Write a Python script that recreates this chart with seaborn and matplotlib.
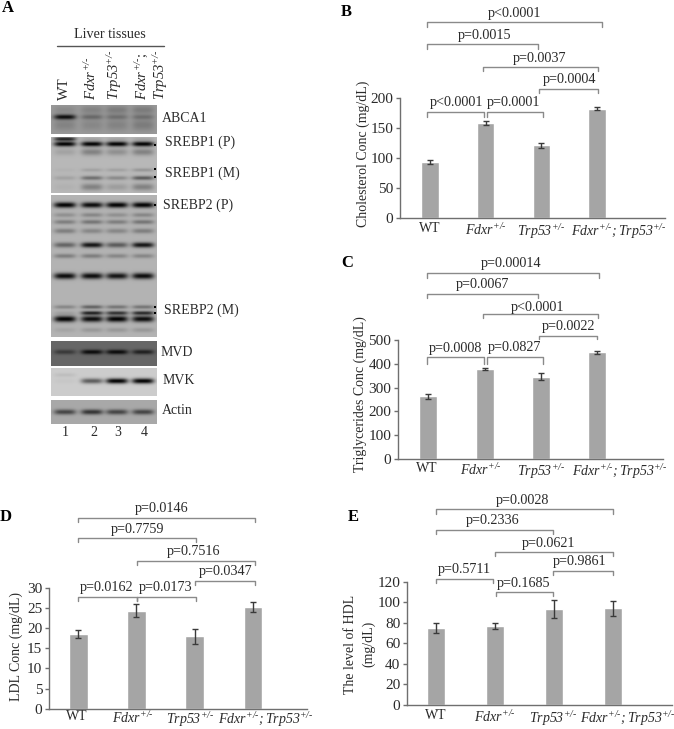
import numpy as np
import pandas as pd
import matplotlib
matplotlib.use('Agg')
import matplotlib.pyplot as plt
from matplotlib.lines import Line2D
from matplotlib.transforms import ScaledTranslation
import seaborn as sns

# bar values
het = '^{+/\u2010}'
fdxr = r'$\mathit{Fdxr}' + het + '$'
trp53 = r'$\mathit{Trp53}' + het + '$'
double = r'$\mathit{Fdxr}' + het + r'\mathit{;Trp53}' + het + '$'
genotypes = ['WT', fdxr, trp53, double]
chol_vals = [93, 158, 121, 182]
chol_errs = [3, 3, 4, 3]
trig_vals = [263, 377, 346, 448]
trig_errs = [12, 5, 14, 5]
ldl_vals = [18.5, 24.4, 18.0, 25.3]
ldl_errs = [1.0, 1.7, 1.8, 1.2]
hdl_vals = [75, 77, 93.5, 94]
hdl_errs = [5, 3, 9, 7]

chol_p = ['p<0.0001', 'p=0.0015', 'p=0.0037', 'p=0.0004', 'p<0.0001', 'p=0.0001']
trig_p = ['p=0.00014', 'p=0.0067', 'p<0.0001', 'p=0.0022', 'p=0.0008', 'p=0.0827']
ldl_p = ['p=0.0146', 'p=0.7759', 'p=0.7516', 'p=0.0347', 'p=0.0162', 'p=0.0173']
hdl_p = ['p=0.0028', 'p=0.2336', 'p=0.0621', 'p=0.9861', 'p=0.5711', 'p=0.1685']

# band darkness per lane for the blots
abca1_bands = [(12, 1.8, [.9, .3, .25, .25]), (5, 3, [.1, .15, .2, .2]), (20, 4, [.15, .12, .15, .2])]
srebp1_bands = [(2, 1.4, [.8, .1, .1, .1]), (7, 1.8, [1, 1, 1, 1]), (15, 2.5, [.12, .3, .22, .3]),
                (33, 1.3, [.03, .12, .12, .18]), (41, 1.5, [.12, .4, .25, .5]), (50, 2.5, [.04, .3, .15, .3])]
srebp2_bands = [(10, 2, [1, .95, 1, 1]), (20, 1.6, [.2, .25, .2, .25]), (27, 1.6, [.3, .35, .3, .35]),
                (36, 1.8, [.3, .25, .25, .3]), (50, 1.9, [.45, .9, .5, .9]), (61, 1.6, [.3, .3, .25, .25]),
                (81, 2.2, [.95, .95, .9, .95]), (112, 1.4, [.25, .45, .35, .35]), (118, 1.4, [.1, .8, .7, .75]),
                (124, 2.2, [1, .95, 1, .95]), (135, 1.7, [.08, .15, .15, .15])]
mvd_bands = [(11, 1.7, [.45, .9, .9, .7])]
mvk_bands = [(7, 1.5, [.07, 0, 0, 0]), (13, 1.9, [.03, .55, 1, 1])]
actin_bands = [(12, 1.9, [.6, .7, .6, .6])]

sns.set_theme(style='ticks')
plt.rcParams['font.family'] = ['Liberation Serif', 'DejaVu Serif']
plt.rcParams['mathtext.fontset'] = 'custom'
plt.rcParams['mathtext.rm'] = 'Liberation Serif:italic'  # digits of Trp53 stay italic
plt.rcParams['mathtext.it'] = 'Liberation Serif:italic'
plt.rcParams['mathtext.bf'] = 'Liberation Serif:bold'

W, H = 674, 729
INK = '#2a2a2a'
GREY = '#8a8a8a'
fig = plt.figure(figsize=(W / 100, H / 100), dpi=100)


def fx(x):
    return x / W


def fy(y):
    return 1 - y / H


def label(x, y, s, size=10, **kw):
    kw.setdefault('ha', 'center')
    kw.setdefault('va', 'center')
    fig.text(fx(x), fy(y), s, fontsize=size, color=kw.pop('color', INK), **kw)


def fig_line(xs, ys, color=GREY, lw=1.0):
    fig.add_artist(Line2D([fx(x) for x in xs], [fy(y) for y in ys], color=color, lw=lw))


def bar_panel(vals, errs, ymax, step, ox, oy, left, right, base, top, centres, width,
              tick_x, tick_y, brackets, texts, ptexts, ylabels, ylab_y):
    # all layout numbers are measured on the 3x crops, ox/oy is the crop origin
    l, r = ox + left / 3, ox + right / 3
    t, b = oy + top / 3, oy + base / 3
    ax = fig.add_axes([fx(l), fy(b), (r - l) / W, (b - t) / H])
    df = pd.DataFrame({'genotype': genotypes, 'value': vals})
    spacing = (centres[3] - centres[0]) / 3
    sns.barplot(data=df, x='genotype', y='value', color='#a5a5a5', saturation=1,
                width=width / spacing, errorbar=None, ax=ax)
    ax.errorbar(range(4), vals, yerr=errs, fmt='none', ecolor='#3a3a3a', elinewidth=1,
                capsize=2, capthick=1)
    ax.set_xlim((left - centres[0]) / spacing, (right - centres[0]) / spacing)
    ax.set_ylim(0, ymax)
    ax.set_yticks(np.arange(0, ymax + 1, step))
    ax.set_xlabel('')
    ax.set_ylabel('')
    ax.patch.set_alpha(0)
    sns.despine(ax=ax)
    for s in ['left', 'bottom']:
        ax.spines[s].set_color('#6f6f6f')
        ax.spines[s].set_linewidth(1)
    ax.tick_params(axis='y', length=3, width=1, color='#6f6f6f', labelsize=11,
                   labelcolor=INK, pad=2)
    ax.tick_params(axis='x', length=0, labelsize=10, labelcolor=INK,
                   pad=(tick_y - base) / 3 - 9)
    for i, lab in enumerate(ax.get_xticklabels()):
        dx = (tick_x[i] - centres[i]) / 3 / 100
        lab.set_transform(lab.get_transform() + ScaledTranslation(dx, 0, fig.dpi_scale_trans))
    for x0, x1, y, y2 in brackets:
        fig_line([ox + x0 / 3, ox + x0 / 3, ox + x1 / 3, ox + x1 / 3],
                 [oy + y2 / 3, oy + y / 3, oy + y / 3, oy + y2 / 3])
    for (x, y), s in zip(texts, ptexts):
        label(ox + x / 3, oy + y / 3, s, size=10.2)
    for x, s in ylabels:
        label(ox + x / 3, oy + ylab_y / 3, s, size=10, rotation=90)


bar_panel(chol_vals, chol_errs, 200, 50, 340, 0, 180, 975, 655, 293, [270, 437, 605, 771], 52,
          [270, 437, 603, 835], 690,
          [(260, 785, 67, 80), (260, 595, 133, 147), (430, 775, 202, 213), (598, 775, 267, 280),
           (262, 432, 335, 350), (442, 608, 335, 350)],
          [(525, 42), (435, 105), (598, 175), (688, 240), (350, 308), (522, 308)], chol_p,
          [(70, 'Cholesterol Conc (mg/dL)')], 462)

bar_panel(trig_vals, trig_errs, 500, 100, 340, 250, 175, 970, 627, 270, [265, 433, 603, 771], 54,
          [260, 423, 603, 840], 660,
          [(260, 778, 70, 83), (260, 595, 131, 143), (430, 773, 193, 205), (597, 772, 257, 268),
           (262, 432, 322, 342), (440, 608, 322, 342)],
          [(513, 42), (427, 103), (592, 172), (685, 230), (345, 295), (522, 293)], trig_p,
          [(62, 'Triglycerides Conc (mg/dL)')], 432)

bar_panel(ldl_vals, ldl_errs, 30, 5, 0, 490, 148, 920, 656, 294, [235, 410, 584, 758], 55,
          [230, 400, 572, 798], 686,
          [(234, 765, 83, 95), (234, 588, 143, 155), (412, 765, 212, 224), (586, 765, 272, 286),
           (234, 410, 322, 334), (412, 588, 322, 334)],
          [(485, 55), (412, 117), (580, 183), (677, 245), (320, 293), (498, 293)], ldl_p,
          [(48, 'LDL Conc (mg/dL)')], 470)

bar_panel(hdl_vals, hdl_errs, 120, 20, 340, 490, 202, 995, 645, 275, [288, 465, 642, 819], 55,
          [288, 465, 638, 862], 681,
          [(287, 818, 58, 71), (287, 640, 119, 131), (465, 818, 187, 199), (639, 818, 243, 255),
           (287, 460, 266, 278), (467, 640, 307, 319)],
          [(548, 32), (457, 92), (625, 161), (720, 215), (372, 238), (552, 279)], hdl_p,
          [(30, 'The level of HDL'), (85, '(mg/dL)')], 462)

# blots, one heatmap per strip
lane_x = [14, 41, 66, 92]
GEL_L, GEL_R = 51, 157


def blot(top, bottom, bg, bands):
    h, w = bottom - top, GEL_R - GEL_L
    yy, xx = np.mgrid[0:h, 0:w] + 0.5
    dark = np.zeros((h, w))
    for y, sig, lanes in bands:
        for cx, d in zip(lane_x, lanes):
            dark += d * np.exp(-((yy - y) / sig) ** 2 / 2) * np.exp(-((xx - cx) / 11) ** 4)
    img = bg * (1 - np.clip(dark, 0, 1) * 0.97)
    ax = fig.add_axes([fx(GEL_L), fy(bottom), (GEL_R - GEL_L) / W, h / H])
    sns.heatmap(img, vmin=0, vmax=1, cmap='gray', cbar=False, xticklabels=False,
                yticklabels=False, ax=ax)


blot(105, 134, 0.60, abca1_bands)
blot(137, 193, 0.72, srebp1_bands)
blot(195, 337, 0.70, srebp2_bands)
blot(341, 366, 0.40, mvd_bands)
blot(368, 396, 0.80, mvk_bands)
blot(400, 424, 0.66, actin_bands)

label(110, 35, 'Liver tissues', size=10.2)
fig_line([57, 164], [46, 46], color='#555555', lw=1)
head_labels = ['WT', r'$\mathit{Fdxr}' + het + '$', r'$\mathit{Trp53}' + het + '$',
               r'$\mathit{Fdxr}' + het + '$;', r'$\mathit{Trp53}' + het + '$']
for x, s in zip([64, 91, 115, 142, 161], head_labels):
    label(x, 100, s, size=10.5, rotation=90, va='bottom')

band_names = ['ABCA1', 'SREBP1 (P)', 'SREBP1 (M)', 'SREBP2 (P)', 'SREBP2 (M)', 'MVD', 'MVK', 'Actin']
band_label_pos = [(162, 118), (165, 142), (165, 173), (163, 205), (164, 310), (161, 352), (163, 381), (162, 411)]
for (x, y), s in zip(band_label_pos, band_names):
    label(x, y, s, size=10, ha='left')
for x, s in zip([65, 94, 118, 144], ['1', '2', '3', '4']):
    label(x, 432, s, size=10)
for y in [145, 169, 177, 205, 307, 313]:
    fig.add_artist(Line2D([fx(155)], [fy(y)], marker='s', ms=2, color='black', mew=0, ls=''))

for (x, y), s in zip([(8, 8), (346, 12), (347, 263), (6, 517), (353, 517)], 'ABCDE'):
    label(x, y, s, size=12, fontweight='bold', color='black')

fig.savefig('out.png', dpi=100)
